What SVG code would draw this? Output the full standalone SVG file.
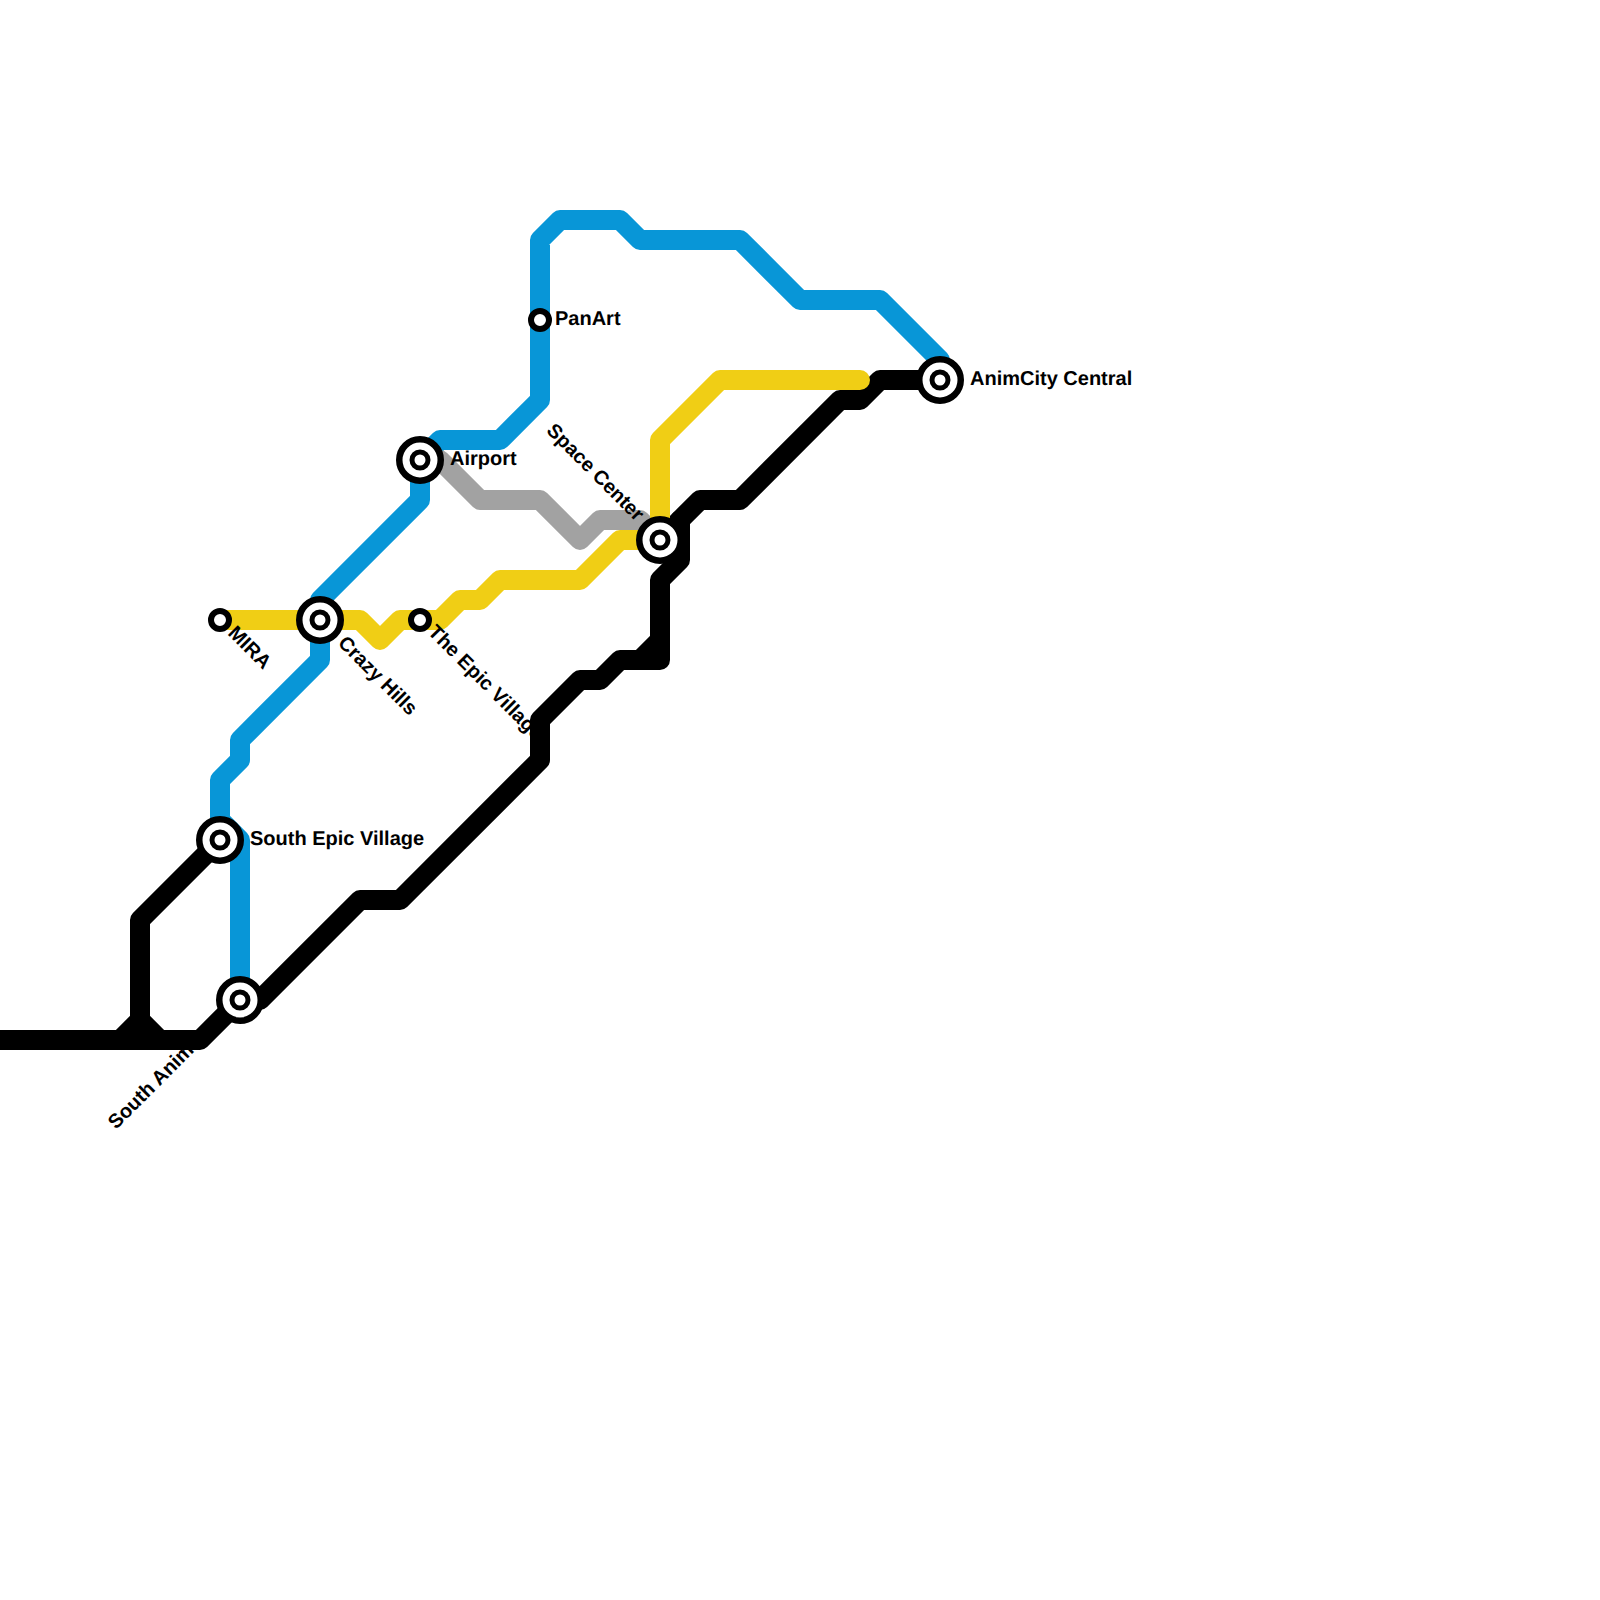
<svg xmlns="http://www.w3.org/2000/svg" width="1600" height="1600" viewBox="0 0 1600 1600">
<style>
.bg{fill:#fff}
text{font-family:"Liberation Sans",Arial,sans-serif;font-weight:700;font-size:20px;fill:#000;text-rendering:geometricPrecision}
.line{fill:none;stroke-width:20;stroke-linejoin:round;stroke-linecap:round}
.black{stroke:#000}.blue{stroke:#0896d7}.grey{stroke:#a2a2a2}.yellow{stroke:#f0ce15}
.ring{fill:#fff;stroke:#000;stroke-width:6.5}
.core{fill:#fff;stroke:#000;stroke-width:5}
.small{fill:#fff;stroke:#000;stroke-width:6}
</style>
<defs>
<g id="major"><circle class="ring" r="20.75"/><circle class="core" r="8"/></g>
<circle id="minor" class="small" r="9"/>
</defs>
<rect class="bg" width="1600" height="1600"/>
<g id="connectors">
<path class="line black" d="M-20 1040H200L240 1000H260L360 900H400L540 760V720L580 680H600L620 660H660V580L680 560V520L700 500H740L840 400H860L880 380H940"/>
<path class="line black" d="M640 660L660 640M660 540L680 520"/>
<path class="line black" d="M220 840L140 920V1020L120 1040M140 1020L160 1040"/>
<path class="line blue" d="M940 380V360L880 300H800L740 240H640L620 220H560L540 240V400L500 440H440L420 460V500L320 600V660L240 740V760L220 780V820L240 840V1000"/>
<path class="line grey" d="M420 460H440L480 500H540L580 540L600 520H640L660 540"/>
<path class="line yellow" d="M220 620H360L380 640L400 620H440L460 600H480L500 580H580L620 540H660V440L720 380H860"/>
</g>
<g id="station-animcity-central"><use href="#major" x="940" y="380"/><text x="970" y="385">AnimCity Central</text></g>
<g id="station-space-center"><use href="#major" x="660" y="540"/><text transform="translate(636,522) rotate(45)" text-anchor="end">Space Center</text></g>
<g id="station-airport"><use href="#major" x="420" y="460"/><text x="450" y="465">Airport</text></g>
<g id="station-crazy-hills"><use href="#major" x="320" y="620"/><text transform="translate(337,644) rotate(45)">Crazy Hills</text></g>
<g id="station-south-epic-village"><use href="#major" x="220" y="840"/><text x="250" y="845">South Epic Village</text></g>
<g id="station-south-anim"><use href="#major" x="240" y="1000"/><text transform="translate(116,1130) rotate(-45)">South Anim</text></g>
<g id="station-mira"><use href="#minor" x="220" y="620"/><text transform="translate(227,634) rotate(45)">MIRA</text></g>
<g id="station-the-epic-village"><use href="#minor" x="420" y="620"/><text transform="translate(427,633) rotate(45)">The Epic Village</text></g>
<g id="station-panart"><use href="#minor" x="540" y="320"/><text x="555" y="325">PanArt</text></g>
</svg>
